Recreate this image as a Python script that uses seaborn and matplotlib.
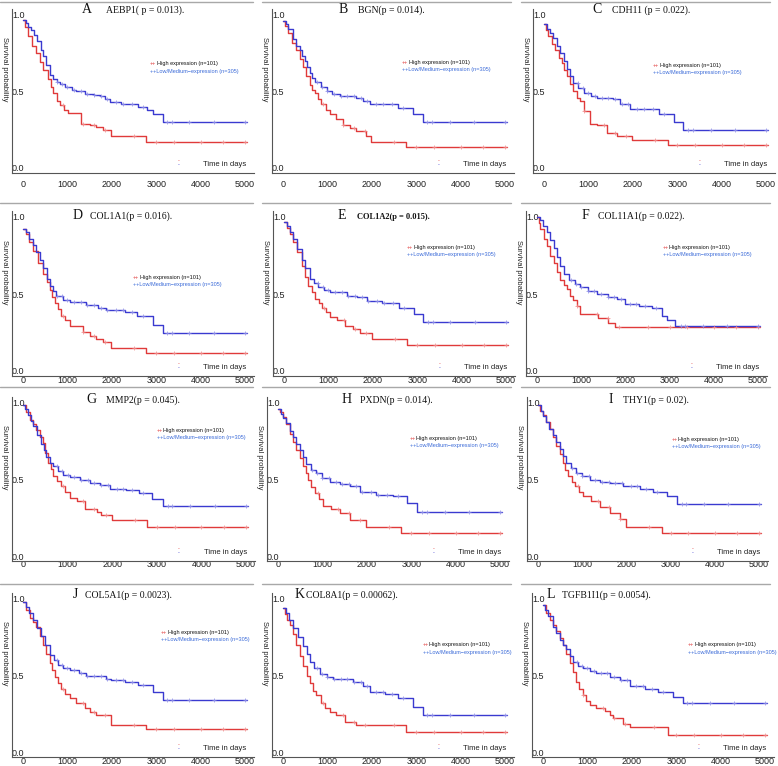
import numpy as np
import pandas as pd
import matplotlib
matplotlib.use("Agg")
import matplotlib.pyplot as plt
from matplotlib.lines import Line2D
import seaborn as sns

# ---------------- data ----------------
PANEL_LETTERS = list("ABCDEFGHIJKL")
GENE_TITLES = [
    "AEBP1( p = 0.013).", "BGN(p = 0.014).", "CDH11 (p = 0.022).",
    "COL1A1(p = 0.016).", "COL1A2(p = 0.015).", "COL11A1(p = 0.022).",
    "MMP2(p = 0.045).", "PXDN(p = 0.014).", "THY1(p = 0.02).",
    "COL5A1(p = 0.0023).", "COL8A1(p = 0.00062).", "TGFB1I1(p = 0.0054).",
]
HIGH_LABEL = "High expression (n=101)"
LOW_LABEL = "++Low/Medium\u2212expression (n=305)"
X_TICKS = [0, 1000, 2000, 3000, 4000, 5000]
Y_TICKS = [0.0, 0.5, 1.0]
Y_TICK_LABELS = ["0.0", "0.5", "1.0"]

# (day, survival probability) step knots
A_LOW = [(0, .97), (60, .95), (120, .92), (180, .90), (250, .87), (320, .83), (400, .77), (450, .73), (520, .67),
         (600, .61), (680, .58), (760, .56), (830, .55), (950, .53), (1100, .51), (1200, .50), (1400, .485),
         (1600, .475), (1730, .47), (1850, .45), (1950, .43), (2200, .42), (2590, .40), (2800, .38), (2930, .35),
         (3160, .30), (5050, .30)]
A_HIGH = [(0, .97), (50, .92), (110, .86), (200, .80), (300, .75), (380, .69), (450, .64), (560, .58), (620, .53),
          (680, .49), (760, .44), (830, .41), (920, .38), (1015, .36), (1315, .29), (1500, .28), (1650, .27),
          (1800, .25), (1990, .21), (2780, .17), (5050, .17)]
B_LOW = [(0, .96), (60, .94), (120, .91), (225, .84), (300, .80), (375, .77), (430, .73), (490, .70), (550, .66),
         (600, .62), (660, .59), (715, .565), (850, .53), (980, .50), (1100, .485), (1280, .47), (1650, .46),
         (1800, .44), (1955, .42), (2595, .39), (2930, .35), (3160, .30), (5050, .30)]
B_HIGH = [(0, .96), (50, .93), (110, .88), (200, .82), (300, .77), (380, .71), (450, .66), (520, .60), (600, .54),
          (660, .51), (715, .49), (790, .45), (865, .42), (960, .38), (1050, .35), (1200, .32), (1350, .28),
          (1500, .26), (1650, .24), (1880, .21), (1990, .17), (2780, .14), (5050, .14)]
C_LOW = [(0, .94), (60, .91), (130, .88), (210, .85), (290, .80), (360, .75), (440, .70), (510, .65), (580, .60),
         (660, .555), (770, .52), (890, .49), (1050, .47), (1190, .46), (1565, .45), (1715, .42), (1940, .385),
         (2580, .35), (2920, .30), (3140, .25), (5050, .25)]
C_HIGH = [(0, .94), (50, .90), (100, .86), (170, .81), (250, .77), (330, .72), (400, .685), (460, .64), (510, .60),
          (590, .55), (660, .50), (740, .46), (810, .435), (900, .37), (1040, .29), (1200, .28), (1410, .23),
          (1640, .21), (1980, .185), (2800, .15), (5050, .15)]
D_LOW = [(0, .92), (60, .90), (130, .86), (225, .82), (300, .77), (380, .72), (450, .67), (530, .60), (600, .55),
         (680, .52), (750, .49), (900, .46), (1050, .45), (1430, .43), (1700, .41), (1880, .395), (2300, .38),
         (2560, .36), (2930, .30), (3160, .25), (5050, .25)]
D_HIGH = [(0, .92), (60, .89), (130, .84), (225, .78), (330, .70), (450, .63), (530, .58), (600, .525), (660, .48),
          (715, .44), (790, .40), (865, .36), (950, .33), (1050, .29), (1350, .255), (1500, .23), (1650, .21),
          (1800, .19), (1990, .15), (2780, .115), (5050, .115)]
E_LOW = [(0, .97), (60, .94), (130, .90), (210, .86), (300, .79), (400, .72), (480, .67), (585, .60), (680, .57),
         (775, .545), (900, .525), (1040, .51), (1415, .49), (1650, .48), (1865, .455), (2200, .44), (2580, .41),
         (2920, .37), (3140, .315), (5050, .315)]
E_HIGH = [(0, .97), (60, .93), (130, .89), (210, .84), (300, .77), (400, .685), (480, .61), (550, .555), (620, .51),
          (700, .47), (780, .44), (850, .41), (950, .38), (1040, .35), (1200, .33), (1375, .295), (1550, .27),
          (1715, .25), (1980, .21), (2770, .17), (5050, .17)]
F_LOW = [(0, 1.0), (60, .98), (140, .94), (225, .90), (300, .85), (375, .80), (450, .74), (525, .68), (620, .63),
         (715, .59), (850, .565), (980, .545), (1150, .52), (1355, .50), (1600, .48), (1805, .47), (1990, .435),
         (2300, .42), (2595, .41), (2820, .36), (2930, .33), (3120, .29), (5050, .29)]
F_HIGH = [(0, 1.0), (40, .96), (75, .92), (150, .86), (225, .81), (300, .75), (375, .70), (450, .64), (525, .59),
          (600, .56), (675, .53), (750, .49), (825, .46), (900, .42), (980, .37), (1390, .345), (1615, .31),
          (1770, .285), (5050, .285)]
G_LOW = [(0, .99), (50, .96), (110, .92), (170, .88), (225, .85), (320, .79), (410, .73), (470, .69), (525, .65),
         (600, .61), (675, .585), (780, .555), (900, .53), (1050, .515), (1275, .50), (1500, .48), (1725, .465),
         (1950, .44), (2300, .43), (2590, .41), (2885, .375), (3150, .33), (5050, .33)]
G_HIGH = [(0, .99), (60, .94), (150, .89), (220, .86), (300, .825), (380, .78), (450, .74), (500, .67), (560, .61),
          (620, .57), (675, .52), (760, .49), (860, .455), (950, .42), (1050, .38), (1200, .36), (1385, .31),
          (1650, .29), (1760, .27), (1985, .235), (2775, .19), (5050, .19)]
H_LOW = [(0, .96), (60, .93), (120, .90), (190, .87), (260, .82), (340, .78), (410, .735), (490, .69), (560, .645),
         (640, .60), (750, .565), (865, .54), (1000, .51), (1165, .485), (1400, .47), (1615, .455), (1840, .42),
         (2200, .40), (2595, .39), (2895, .345), (3120, .29), (5050, .29)]
H_HIGH = [(0, .96), (50, .94), (110, .91), (180, .86), (260, .80), (340, .745), (410, .69), (490, .64), (565, .585),
          (620, .54), (675, .50), (750, .45), (825, .41), (920, .37), (1015, .33), (1200, .31), (1390, .28),
          (1615, .235), (1990, .19), (2780, .15), (5050, .15)]
I_LOW = [(0, .99), (60, .95), (120, .915), (190, .875), (260, .83), (340, .79), (410, .745), (490, .70), (560, .655),
         (640, .61), (750, .575), (870, .545), (1000, .52), (1170, .50), (1400, .485), (1625, .475), (1925, .455),
         (2300, .44), (2605, .42), (2910, .39), (3135, .34), (5050, .34)]
I_HIGH = [(0, .99), (50, .95), (115, .92), (190, .875), (265, .83), (340, .775), (415, .72), (490, .665), (565, .61),
          (620, .565), (680, .52), (760, .485), (830, .455), (920, .42), (1020, .39), (1200, .36), (1400, .32),
          (1625, .28), (1850, .24), (2000, .19), (2795, .15), (5050, .15)]
J_LOW = [(0, .98), (60, .95), (130, .91), (225, .86), (320, .81), (415, .755), (500, .70), (600, .635), (700, .60),
         (790, .57), (900, .55), (1050, .535), (1250, .515), (1430, .50), (1880, .48), (1990, .47), (2300, .46),
         (2595, .44), (2930, .395), (3160, .34), (5050, .34)]
J_HIGH = [(0, .98), (60, .93), (150, .875), (220, .85), (300, .82), (380, .76), (450, .70), (520, .64), (600, .58),
          (660, .535), (715, .49), (790, .45), (865, .415), (950, .38), (1050, .35), (1200, .32), (1390, .285),
          (1500, .26), (1650, .24), (1990, .175), (2780, .15), (5050, .15)]
K_LOW = [(0, .94), (60, .91), (140, .86), (225, .81), (330, .75), (450, .69), (530, .64), (600, .59), (700, .55),
         (830, .51), (980, .49), (1130, .48), (1580, .46), (1800, .43), (1955, .395), (2300, .38), (2595, .35),
         (2930, .295), (3160, .245), (5050, .245)]
K_HIGH = [(0, .94), (50, .90), (100, .86), (150, .83), (230, .77), (300, .70), (380, .63), (450, .56), (530, .50),
          (600, .45), (680, .40), (750, .37), (865, .32), (950, .29), (1050, .26), (1200, .24), (1390, .195),
          (1650, .175), (2780, .13), (5050, .13)]
L_LOW = [(0, .96), (50, .93), (120, .89), (225, .82), (300, .78), (375, .735), (450, .70), (525, .67), (600, .625),
         (675, .585), (780, .565), (900, .55), (1050, .53), (1200, .515), (1500, .49), (1730, .47), (1955, .43),
         (2300, .41), (2595, .395), (2930, .36), (3160, .32), (5050, .32)]
L_HIGH = [(0, .96), (60, .91), (150, .865), (220, .83), (300, .79), (380, .745), (450, .70), (520, .64), (600, .58),
          (680, .52), (750, .46), (820, .41), (900, .37), (970, .335), (1050, .305), (1200, .29), (1390, .27),
          (1500, .245), (1580, .22), (1800, .18), (1955, .165), (2820, .11), (5050, .11)]

LOW_CURVES = [A_LOW, B_LOW, C_LOW, D_LOW, E_LOW, F_LOW, G_LOW, H_LOW, I_LOW, J_LOW, K_LOW, L_LOW]
HIGH_CURVES = [A_HIGH, B_HIGH, C_HIGH, D_HIGH, E_HIGH, F_HIGH, G_HIGH, H_HIGH, I_HIGH, J_HIGH, K_HIGH, L_HIGH]

CENSOR_LOW_DAYS = [760, 880, 1000, 1150, 1300, 1450, 1600, 1750, 1900, 2100, 2250, 2450, 2700, 3250, 3350,
                   3750, 4300, 5000]
CENSOR_HIGH_DAYS = [900, 1350, 1600, 1850, 2500, 3000, 3400, 4000, 4500, 5000]

# ---------------- layout ----------------
W, H = 778, 766
PANEL_X0 = [23, 283, 544, 23, 284, 537, 23, 278, 538, 23, 283, 543]
PANEL_X5 = [245, 505, 766, 245, 506, 758, 246, 500, 759, 245, 505, 765]
ROW_Y1 = [15, 217, 403, 599]
ROW_Y0 = [168, 371, 556, 752]
ROW_BASELINE = [12.7, 219, 403, 598]
ROW_XPAD = [5, 0, -1, 0]
TITLE_LETTER_X = [82, 339, 592, 73, 338, 582, 86, 342, 609, 73, 295, 547]
TITLE_TEXT_X = [106, 358, 612, 90, 357, 598, 106, 360, 623, 85, 306, 562]
LEGEND_X = [2860, 2680, 2455, 2480, 2770, 2850, 3000, 2970, 3030, 3110, 3150, 3270]
LEGEND_Y = [0.68, 0.69, 0.67, 0.61, 0.805, 0.805, 0.82, 0.77, 0.76, 0.78, 0.70, 0.70]
SEP_Y = [1.5, 203, 387, 584]
SEP_SPANS = [(0, 253), (262, 511), (521, 770)]
XLIM = (-250, 5200)
YLIM = (-0.035, 1.04)

RED = "#e03a3a"
BLUE = "#3a3ad0"
RED_LIGHT = "#f08a8a"
BLUE_LIGHT = "#8c8ce8"

sns.set_style("white")
plt.rcParams["font.family"] = ["Liberation Sans", "DejaVu Sans"]

fig = plt.figure(figsize=(W / 100, H / 100), dpi=100)


def to_df(curve):
    return pd.DataFrame({"day": [p[0] for p in curve], "surv": [p[1] for p in curve]})


def surv_at(curve, days):
    t = np.array([p[0] for p in curve])
    s = np.array([p[1] for p in curve])
    idx = np.searchsorted(t, np.asarray(days), side="right") - 1
    return s[idx]


for sy in SEP_Y:
    for (xa, xb) in SEP_SPANS:
        fig.add_artist(Line2D([xa / W, xb / W], [1 - sy / H, 1 - sy / H], color="#a8a8a8", lw=1.0))

for k in range(12):
    r, c = divmod(k, 3)
    x0, x5 = PANEL_X0[k], PANEL_X5[k]
    ppd = (x5 - x0) / 5000.0
    left = x0 + XLIM[0] * ppd
    width = (XLIM[1] - XLIM[0]) * ppd
    y1, y0 = ROW_Y1[r], ROW_Y0[r]
    ppu = y0 - y1
    bottom = y0 - YLIM[0] * ppu
    height = (YLIM[1] - YLIM[0]) * ppu
    ax = fig.add_axes([left / W, 1 - bottom / H, width / W, height / H])
    ax.set_facecolor("none")

    hi, lo = HIGH_CURVES[k], LOW_CURVES[k]
    sns.lineplot(data=to_df(hi), x="day", y="surv", drawstyle="steps-post", estimator=None, sort=False,
                 color=RED, lw=1.0, ax=ax)
    sns.lineplot(data=to_df(lo), x="day", y="surv", drawstyle="steps-post", estimator=None, sort=False,
                 color=BLUE, lw=1.0, ax=ax)
    sns.scatterplot(x=CENSOR_HIGH_DAYS, y=surv_at(hi, CENSOR_HIGH_DAYS), marker="+", s=7, linewidth=0.5,
                    color=RED_LIGHT, ax=ax, legend=False, zorder=3)
    sns.scatterplot(x=CENSOR_LOW_DAYS, y=surv_at(lo, CENSOR_LOW_DAYS), marker="+", s=7, linewidth=0.5,
                    color=BLUE_LIGHT, ax=ax, legend=False, zorder=3)

    ax.set_xlim(*XLIM)
    ax.set_ylim(*YLIM)
    ax.set_xlabel("")
    ax.set_ylabel("")
    ax.set_xticks(X_TICKS)
    ax.set_xticklabels([str(v) for v in X_TICKS], fontsize=6.5)
    ax.set_yticks(Y_TICKS)
    ax.set_yticklabels(Y_TICK_LABELS, fontsize=6.5)
    ax.tick_params(axis="x", length=0, pad=ROW_XPAD[r], colors="#222222")
    ax.tick_params(axis="y", length=0, pad=0, colors="#222222")
    for lab in ax.get_yticklabels():
        lab.set_horizontalalignment("left")
    for side in ("top", "right"):
        ax.spines[side].set_visible(False)
    for side in ("left", "bottom"):
        ax.spines[side].set_color("#555555")
        ax.spines[side].set_linewidth(0.8)

    ax.text(-0.03, 0.63, "Survival probability", transform=ax.transAxes, rotation=270,
            ha="center", va="center", fontsize=5.5, color="#222222")
    ax.text(5030, 0.025, "Time in days", ha="right", va="center", fontsize=5.5, color="#222222")
    ax.text(3500, 0.045, "-", ha="center", va="center", fontsize=4, color=RED)
    ax.text(3500, 0.018, "-", ha="center", va="center", fontsize=4, color=BLUE)

    lx, ly = LEGEND_X[k], LEGEND_Y[k]
    ax.text(lx, ly, "++", ha="left", va="center", fontsize=4, color=RED)
    ax.annotate(HIGH_LABEL, xy=(lx, ly), xytext=(4.7, 0), textcoords="offset points",
                ha="left", va="center", fontsize=4, color="#111111")
    ax.text(lx, ly - 0.047, LOW_LABEL, ha="left", va="center", fontsize=4, color="#3a6ad8")

    base = 1 - ROW_BASELINE[r] / H
    fig.text(TITLE_LETTER_X[k] / W, base, PANEL_LETTERS[k], ha="left", va="baseline",
             fontsize=10, family=["Liberation Serif"], color="#111111")
    bold = k == 4
    fig.text(TITLE_TEXT_X[k] / W, base, GENE_TITLES[k], ha="left", va="baseline",
             fontsize=6 if bold else 7, family=["Liberation Serif"],
             fontweight="bold" if bold else "normal", color="#111111")

fig.savefig("out.png", dpi=100, facecolor="white")
